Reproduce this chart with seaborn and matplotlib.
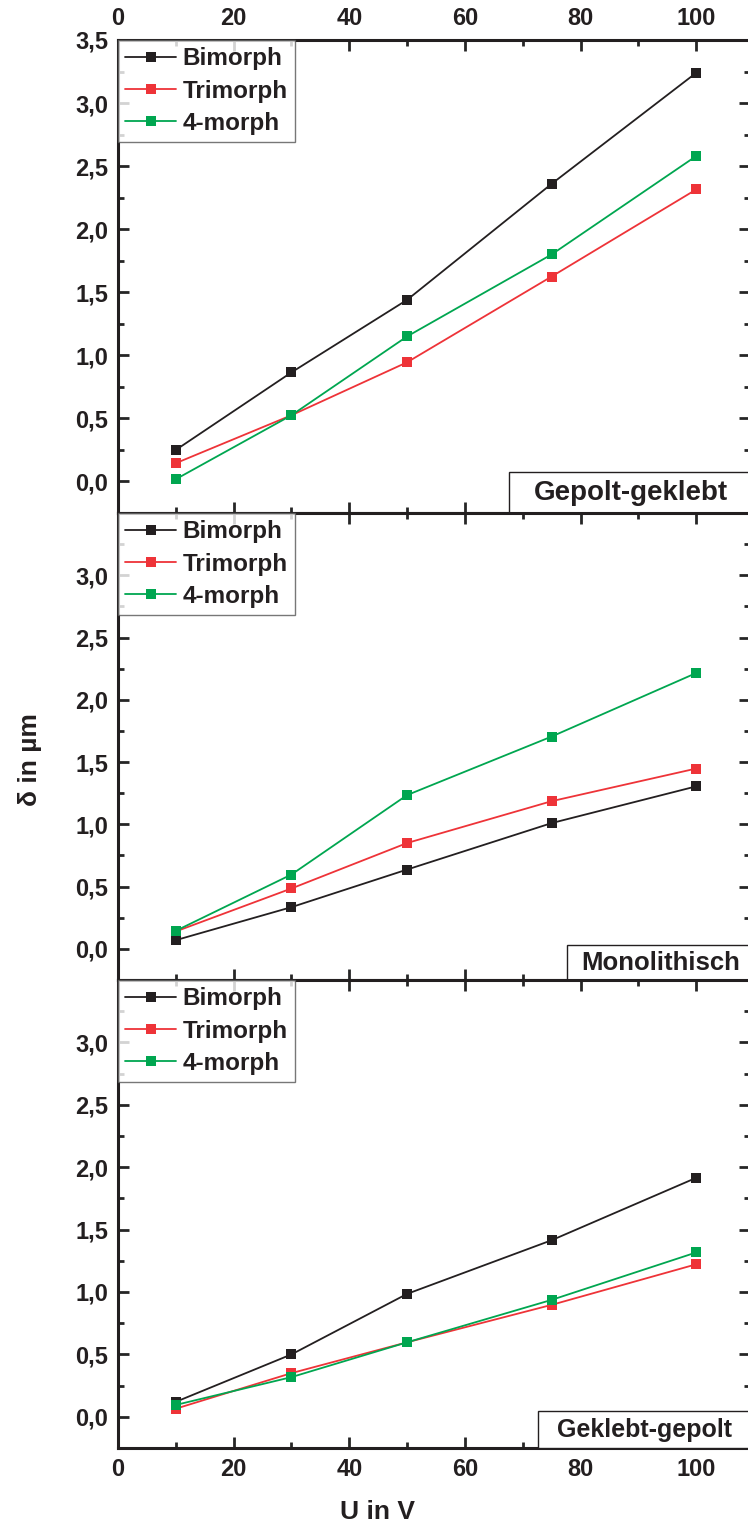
import numpy as np
import pandas as pd
import matplotlib
matplotlib.use("Agg")
import matplotlib.pyplot as plt
from matplotlib.patches import Rectangle
from matplotlib.ticker import MultipleLocator, FuncFormatter
import seaborn as sns

sns.set_theme(style="ticks")
plt.rcParams['font.family'] = ['Liberation Sans', 'DejaVu Sans']
plt.rcParams['font.weight'] = 'bold'

voltages = [10, 30, 50, 75, 100]
series_names = ["Bimorph", "Trimorph", "4-morph"]
panel_names = ["Gepolt-geklebt", "Monolithisch", "Geklebt-gepolt"]

gepolt_bimorph = [0.25, 0.865, 1.44, 2.36, 3.24]
gepolt_trimorph = [0.145, 0.525, 0.945, 1.625, 2.315]
gepolt_4morph = [0.018, 0.525, 1.15, 1.80, 2.58]

mono_bimorph = [0.07, 0.335, 0.637, 1.01, 1.305]
mono_trimorph = [0.14, 0.485, 0.85, 1.186, 1.448]
mono_4morph = [0.145, 0.597, 1.235, 1.705, 2.215]

geklebt_bimorph = [0.12, 0.50, 0.985, 1.415, 1.915]
geklebt_trimorph = [0.065, 0.35, 0.597, 0.897, 1.222]
geklebt_4morph = [0.095, 0.318, 0.597, 0.937, 1.317]

panel_data = [
    [gepolt_bimorph, gepolt_trimorph, gepolt_4morph],
    [mono_bimorph, mono_trimorph, mono_4morph],
    [geklebt_bimorph, geklebt_trimorph, geklebt_4morph],
]

colors = {"Bimorph": "#231f20", "Trimorph": "#ee3338", "4-morph": "#00a650"}

W, H = 748, 1528
fig = plt.figure(figsize=(W / 100, H / 100), dpi=100)

left_px, right_px = 118, 750
panel_px = [(40, 513), (513, 980), (980, 1448)]

label_boxes = [  # (box left px, box top px, text center px, font size)
    (509, 472, 631, 20),
    (567, 945, 661, 18.5),
    (538, 1411, 645, 18),
]

fmt = FuncFormatter(lambda v, p: f"{v:.1f}".replace(".", ","))

for i, (top, bot) in enumerate(panel_px):
    ax = fig.add_axes([left_px / W, 1 - bot / H, (right_px - left_px) / W, (bot - top) / H])
    rows = []
    for name, vals in zip(series_names, panel_data[i]):
        for x, y in zip(voltages, vals):
            rows.append({"U": x, "d": y, "Serie": name})
    df = pd.DataFrame(rows)
    sns.lineplot(data=df, x="U", y="d", hue="Serie", palette=colors, marker="s",
                 markersize=7, markeredgewidth=0, linewidth=1.3, ax=ax,
                 hue_order=series_names, legend=True)
    ax.set_xlim(0, 109.3)
    ax.set_ylim(-0.25, 3.5)
    ax.set_xlabel("")
    ax.set_ylabel("")
    ax.xaxis.set_major_locator(MultipleLocator(20))
    ax.xaxis.set_minor_locator(MultipleLocator(10))
    ax.yaxis.set_minor_locator(MultipleLocator(0.25))
    if i == 0:
        ax.set_yticks([0, 0.5, 1.0, 1.5, 2.0, 2.5, 3.0, 3.5])
    else:
        ax.set_yticks([0, 0.5, 1.0, 1.5, 2.0, 2.5, 3.0])
    ax.yaxis.set_major_formatter(fmt)
    ax.tick_params(which="both", direction="in", top=True, right=True, width=2)
    ax.tick_params(which="major", length=8, labelsize=17, pad=7)
    ax.tick_params(which="minor", length=4)
    ax.tick_params(axis="x", labelbottom=(i == 2), labeltop=(i == 0))
    for sp in ax.spines.values():
        sp.set_linewidth(2.2)
        sp.set_color("#231f20")
        sp.set_visible(True)
    for lab in ax.get_xticklabels() + ax.get_yticklabels():
        lab.set_fontweight("bold")
        lab.set_color("#231f20")

    leg = ax.legend(loc="upper left", borderaxespad=0, fontsize=17.5, frameon=True,
                    fancybox=False, handlelength=2.1, handletextpad=0.25,
                    labelspacing=0.38, borderpad=0.3)
    leg.get_frame().set_edgecolor("#555555")
    leg.get_frame().set_linewidth(1.0)
    for t in leg.get_texts():
        t.set_fontweight("bold")
        t.set_color("#231f20")

    bl, bt, tc, fs = label_boxes[i]
    h = bot - top
    bx = (bl - left_px) / (right_px - left_px)
    bh = (bot - bt) / h
    rect = Rectangle((bx, 0), 1.05 - bx, bh, transform=ax.transAxes, fill=True,
                     facecolor="white", edgecolor="#231f20", linewidth=1.0,
                     clip_on=False, zorder=5)
    ax.add_patch(rect)
    ax.text((tc - left_px) / (right_px - left_px), bh / 2, panel_names[i],
            transform=ax.transAxes, ha="center", va="center", fontsize=fs,
            fontweight="bold", color="#231f20", zorder=6, clip_on=False)

fig.text(30 / W, 1 - 760 / H, "δ in µm", rotation=90, ha="center", va="center",
         fontsize=19, fontweight="bold", color="#231f20")
fig.text(378 / W, 1 - 1512 / H, "U in V", ha="center", va="center",
         fontsize=19, fontweight="bold", color="#231f20")

fig.savefig("out.png", dpi=100)
